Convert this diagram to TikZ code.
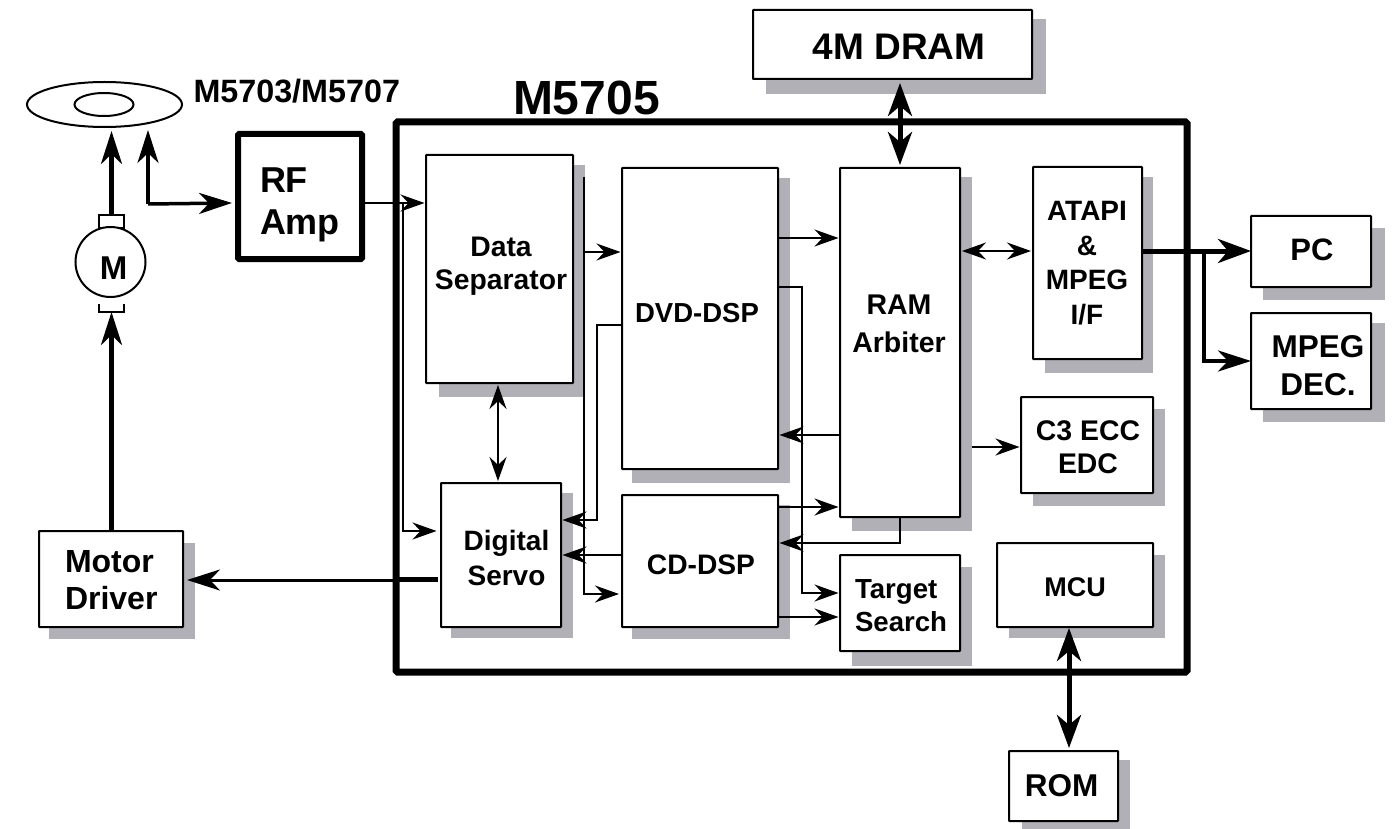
\documentclass[tikz,border=0pt]{standalone}
\usepackage{fontspec}
\setmainfont{Liberation Sans}
\usetikzlibrary{arrows.meta,calc,shapes.geometric}
\definecolor{shadowgray}{RGB}{176,176,182}
\newcommand{\fsz}[2]{\fontsize{#1}{#2}\selectfont\bfseries}
\tikzset{
  x=1pt,y=-1pt,
  every node/.style={outer sep=0pt},
  lab/.style={inner sep=0pt,align=center,text=black},
  boxn/.style={draw=black,line width=2pt,fill=white,inner sep=0pt,rounded corners=0.5pt},
  thin line/.style={draw=black,line width=1.8pt},
  thick line/.style={draw=black,line width=5pt},
  tipS/.tip={Stealth[length=24pt,width=17pt,inset=8pt]},
  tipL/.tip={Stealth[length=33pt,width=24pt,inset=10pt]},
  tipM/.tip={Stealth[length=33pt,width=21pt,inset=10pt]},
  sarr/.style={thin line,-tipS,shorten >=1.5pt},
  darr/.style={thin line,tipS-tipS,shorten >=2pt,shorten <=2pt},
  barr/.style={thick line,-tipL},
  bdarr/.style={thick line,tipL-tipL},
}
% name, box x1,y1,x2,y2, shadow x1,y1,x2,y2
\newcommand{\bx}[9]{%
  \fill[shadowgray] (#6,#7) rectangle (#8,#9);
  \node[boxn,minimum width=#4-#2,minimum height=#5-#3,anchor=north west] (#1) at (#2,#3) {};
}
\begin{document}
\begin{tikzpicture}
\useasboundingbox (0,0) rectangle (1392,829);

% chip outline
\node[draw=black,line width=7pt,rounded corners=1.5pt,minimum width=791pt,minimum height=550pt,inner sep=0pt,anchor=north west] (chip) at (396,122) {};
\node[lab,font=\fsz{48}{50},anchor=west] (chipname) at (513,98) {M5705};

% boxes
\bx{dram}{753}{10}{1032}{79}{766}{19}{1046}{94}
\bx{dsep}{426}{155}{573}{383}{439}{165}{585}{397}
\bx{dvd}{622}{168}{778}{469}{632}{178}{790}{483}
\bx{cd}{622}{495}{778}{627}{632}{505}{790}{639}
\bx{servo}{441}{483}{561}{627}{451}{493}{573}{638}
\bx{ram}{840}{168}{960}{517}{852}{177}{972}{531}
\bx{target}{840}{555}{960}{651}{852}{567}{972}{666}
\bx{atapi}{1033}{167}{1142}{359}{1045}{177}{1153}{373}
\bx{ecc}{1021}{397}{1153}{493}{1033}{409}{1165}{506}
\bx{mcu}{997}{543}{1153}{627}{1009}{555}{1165}{638}
\bx{pc}{1251}{216}{1371}{287}{1263}{228}{1385}{300}
\bx{mpeg}{1251}{313}{1371}{409}{1263}{323}{1385}{422}
\bx{driver}{39}{531}{183}{627}{49}{543}{195}{639}
\bx{rom}{1009}{751}{1118}{821}{1022}{760}{1130}{829}

% RF amp
\node[draw=black,line width=6pt,rounded corners=1pt,fill=white,minimum width=124pt,minimum height=125pt,inner sep=0pt,anchor=north west] (rf) at (238,134) {};

% disc, motor
\node[draw=black,line width=2pt,ellipse,minimum width=155pt,minimum height=45pt,inner sep=0pt] (disc) at (104.5,104.5) {};
\node[draw=black,line width=2pt,ellipse,minimum width=59pt,minimum height=23pt,inner sep=0pt] (hub) at (104,104.5) {};
\node[draw=black,line width=2pt,minimum width=25pt,minimum height=13pt,inner sep=0pt] (brushtop) at (111.5,222) {};
\node[draw=black,line width=2pt,minimum width=25pt,minimum height=14pt,inner sep=0pt] (brushbot) at (111.5,305) {};
\fill[white] (97,296) rectangle (126,304);
\node[draw=black,line width=2pt,fill=white,circle,minimum size=70pt,inner sep=0pt] (motor) at (110.5,262) {};

% labels
\node[lab,font=\fsz{33}{34}] (t-m) at (113.5,268) {M};
\node[lab,font=\fsz{32.3}{34},anchor=west] (t-heads) at (193.5,91) {M5703/M5707};
\node[lab,font=\fsz{37}{39}] (t-dram) at (899,47) {4M DRAM};
\node[lab,font=\fsz{36}{42},align=left,anchor=west] (t-rf) at (260,205) {RF\\Amp};
\node[lab,font=\fsz{28.3}{33}] (t-dsep) at (501,266) {Data\\Separator};
\node[lab,font=\fsz{27.5}{34}] (t-dvd) at (697,313) {DVD-DSP};
\node[lab,font=\fsz{28.2}{34}] (t-cd) at (701,565) {CD-DSP};
\node[lab,font=\fsz{28}{35}] (t-servo) at (506.5,558) {Digital\\Servo};
\node[lab,font=\fsz{28.5}{38}] (t-ram) at (899,324) {RAM\\Arbiter};
\node[lab,font=\fsz{27.6}{33},align=left,anchor=west] (t-target) at (855,606) {Target\\Search};
\node[lab,font=\fsz{28}{34.5}] (t-atapi) at (1087,263) {ATAPI\\\&\\MPEG\\I/F};
\node[lab,font=\fsz{28.4}{33.5}] (t-ecc) at (1088,447) {C3 ECC\\EDC};
\node[lab,font=\fsz{27}{34}] (t-mcu) at (1075,587) {MCU};
\node[lab,font=\fsz{31}{38}] (t-pc) at (1312,250) {PC};
\node[lab,font=\fsz{31.5}{38}] (t-mpeg) at (1318,366) {MPEG\\DEC.};
\node[lab,font=\fsz{32}{37},align=left,anchor=west] (t-driver) at (65,580) {Motor\\Driver};
\node[lab,font=\fsz{31.5}{38}] (t-rom) at (1061.5,786) {ROM};

% connectors
\coordinate (diskL) at (148,130);
\coordinate (forkA) at (148,204);
\coordinate (motorup) at (111.5,131);
\coordinate (fork) at (1204,251);
\coordinate (hold) at (584,177);
\draw[barr,line width=4.5pt,-tipM] (brushtop.north) -- (motorup);
\draw[barr,line width=4.5pt,-tipM] (driver.north -| motorup) -- (brushbot.south -| motorup);
\draw[thin line,line width=3.5pt,-tipM] (forkA) -- (diskL);
\draw[thin line,line width=3.5pt,-tipM] (forkA) -- (232,203) coordinate (rfin);
\draw[thick line,line width=5pt,shorten <=3pt] (servo.west |- 0,579) -- (chip.west |- 0,579);
\draw[thin line,line width=3pt,-tipM,shorten >=4pt] (chip.west |- 0,580) -- (driver.east |- 0,580);

\draw[sarr] (rf.east |- 0,203) -- (dsep.west |- 0,203);
\draw[sarr] (403,204) -- (403,531) -- (438,531);
\draw[sarr,shorten >=3pt] (hold) -- (584,594) -- (cd.west |- 0,594);
\draw[sarr] (584,252) -- (dvd.west |- 0,252);
\draw[darr] (dsep.south -| 498,0) -- (servo.north -| 498,0);
\draw[sarr] (dvd.west |- 0,325) -- (597,325) -- (597,520) -- (servo.east |- 0,520);
\draw[sarr] (cd.west |- 0,555) -- (servo.east |- 0,555);
\draw[sarr] (dvd.east |- 0,238) -- (ram.west |- 0,238);
\draw[sarr] (dvd.east |- 0,287) -- (802,287) -- (802,593) -- (target.west |- 0,593);
\draw[sarr] (cd.east |- 0,507) -- (ram.west |- 0,507);
\draw[sarr] (ram.west |- 0,435) -- (dvd.east |- 0,435);
\draw[sarr] (ram.south -| 900,0) -- (900,543) -- (cd.east |- 0,543);
\draw[sarr] (cd.east |- 0,617) -- (target.west |- 0,617);
\draw[sarr] (972,447) -- (ecc.west |- 0,447);
\draw[darr] (ram.east |- 0,251) -- (atapi.west |- 0,251);
\draw[barr] (atapi.east |- 0,251) -- (pc.west |- 0,251);
\draw[thick line,line width=4.5pt,-tipM] (fork) -- (1204,361) -- (mpeg.west |- 0,361);
\draw[bdarr,shorten <=4pt,shorten >=3pt] (dram.south -| 900,0) -- (ram.north -| 900,0);
\draw[bdarr,shorten <=1pt,shorten >=3pt] (mcu.south -| 1069,0) -- (rom.north -| 1069,0);
\end{tikzpicture}
\end{document}
